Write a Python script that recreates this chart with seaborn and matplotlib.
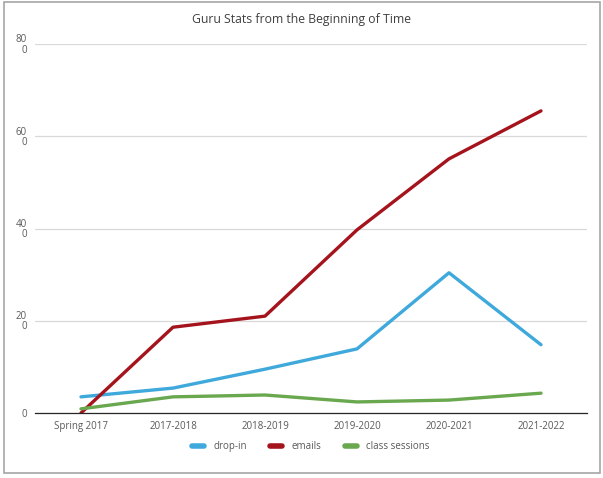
import numpy as np
import pandas as pd
import matplotlib
matplotlib.use('Agg')
import matplotlib.pyplot as plt
import seaborn as sns

years = ['Spring 2017', '2017-2018', '2018-2019', '2019-2020', '2020-2021', '2021-2022']
drop_in = [35, 54, 95, 139, 304, 148]
emails = [0, 186, 210, 397, 551, 655]
class_sessions = [9, 35, 39, 24, 28, 43]
ytick_vals = [0, 200, 400, 600, 800]
ytick_text = ['0', '20\n0', '40\n0', '60\n0', '80\n0']

df = pd.DataFrame({'year': years * 3,
                   'value': drop_in + emails + class_sessions,
                   'series': ['drop-in'] * 6 + ['emails'] * 6 + ['class sessions'] * 6})

sns.set_style('white')
plt.rcParams['font.family'] = ['Open Sans', 'DejaVu Sans']

fig = plt.figure(figsize=(6.03, 4.78), dpi=100)
# chart area frame like the spreadsheet chart box
fig.patches.append(plt.Rectangle((4 / 603, 5 / 478), 596 / 603, 471 / 478, transform=fig.transFigure,
                                 fill=False, edgecolor='#a6a6a6', linewidth=1.2))
ax = fig.add_axes([35 / 603, 65 / 478, 552 / 603, 369 / 478])

palette = {'drop-in': '#3fa9dc', 'emails': '#a5141d', 'class sessions': '#6aa84f'}
sns.lineplot(data=df, x='year', y='value', hue='series', palette=palette,
             linewidth=2.4, sort=False, ax=ax, legend=True)

ax.set_ylim(0, 800)
ax.set_xlim(-0.5, 5.5)
ax.set_yticks(ytick_vals)
ax.set_yticklabels(ytick_text, fontsize=7, color='#595959', linespacing=0.9)
ax.tick_params(axis='x', labelsize=7, labelcolor='#595959', length=0, pad=6)
ax.tick_params(axis='y', length=0, pad=6)
ax.grid(axis='y', color='#d9d9d9', linewidth=0.9)
for s in ['top', 'right', 'left']:
    ax.spines[s].set_visible(False)
ax.spines['bottom'].set_color('#262626')
ax.spines['bottom'].set_linewidth(0.9)
ax.set_xlabel('')
ax.set_ylabel('')

fig.text(0.5, 1 - 20 / 478, 'Guru Stats from the Beginning of Time', ha='center', va='center',
         fontsize=8.8, color='#404040')

handles, labels = ax.get_legend_handles_labels()
ax.legend(handles, labels, loc='center', bbox_to_anchor=(0.5, -0.092), ncol=3, frameon=False,
          fontsize=7, labelcolor='#595959', handlelength=1.2, columnspacing=2.4, handletextpad=1.0)
for line in ax.get_legend().get_lines():
    line.set_linewidth(4)

fig.savefig('out.png', dpi=100)
